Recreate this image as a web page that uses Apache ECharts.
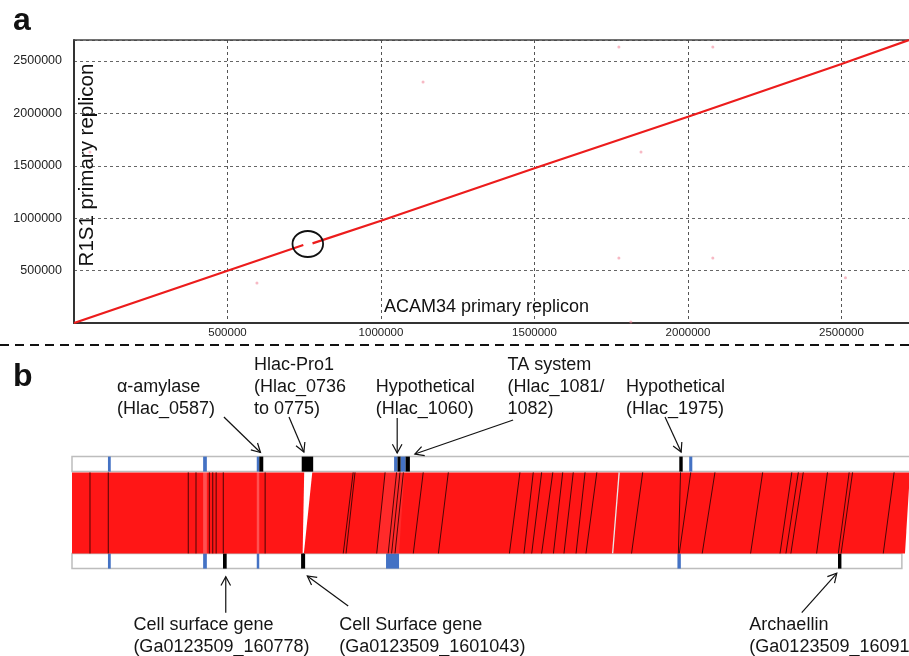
<!DOCTYPE html>
<html><head><meta charset="utf-8">
<script src="https://cdn.jsdelivr.net/npm/echarts@6/dist/echarts.min.js"></script>
<style>html,body{margin:0;padding:0;background:#fff}#c{width:909px;height:656px}</style>
</head><body><div id="c"></div>
<script>
// ================= Panel a : dot plot =================
const xTickStep = 500000;
const yTickStep = 500000;
const xMax = 2720000;
const yMax = 2700000;
const dotPlotSegment1 = [[0, 0], [500000, 499000], [747000, 744000]];
const dotPlotSegment2 = [[777000, 760000], [1000000, 976000], [1500000, 1476000], [2000000, 1968000], [2500000, 2471000], [2720000, 2700000]];
const faintHits = [[1137000, 2300000], [1775000, 2634000], [2081000, 2634000], [1847000, 1632000], [1775000, 620000], [2081000, 620000], [596000, 382000], [2513000, 432000], [1814000, 10000], [52000, 1632000]];
const circledRegion = [[761600, 753700]];

// ================= Panel b : synteny map (Mb) =================
const topGenomeLength = 2.75;      // ACAM34 track runs past the frame
const bottomGenomeLength = 2.677;  // R1S1 track
const topBlue = [[0.116, 0.125], [0.423, 0.435], [0.596, 0.604], [1.039, 1.050], [1.060, 1.076], [1.991, 2.001]];
const topBlack = [[0.604, 0.617], [0.741, 0.778], [1.050, 1.060], [1.076, 1.090], [1.959, 1.970]];
const bottomBlue = [[0.116, 0.125], [0.423, 0.435], [0.596, 0.604], [1.013, 1.055], [1.953, 1.964]];
const bottomBlack = [[0.487, 0.499], [0.739, 0.752], [2.471, 2.482]];
// [topStart, topEnd, bottomStart, bottomEnd]
const syntenyBlocks = [[0, 0.749, 0, 0.744], [0.775, 2.703, 0.748, 2.687]];
const paleBlocks = [[0.423, 0.435, 0.423, 0.435], [0.596, 0.604, 0.596, 0.604]];
const faintBlocks = [[1.010, 1.072, 0.983, 1.055]];
// [topPos, bottomPos]
const darkLinks = [
  [0.058, 0.058], [0.117, 0.117], [0.375, 0.375], [0.400, 0.400], [0.443, 0.443], [0.454, 0.454], [0.465, 0.465], [0.488, 0.488], [0.623, 0.623],
  [0.907, 0.875], [0.913, 0.884], [1.010, 0.983], [1.047, 1.020], [1.058, 1.031], [1.069, 1.042], [1.133, 1.101], [1.214, 1.182],
  [1.445, 1.411], [1.488, 1.458], [1.515, 1.483], [1.551, 1.515], [1.583, 1.553], [1.617, 1.587], [1.655, 1.626], [1.693, 1.658],
  [1.841, 1.805], [1.963, 1.956], [1.996, 1.959], [2.074, 2.033], [2.228, 2.189], [2.322, 2.284], [2.343, 2.303], [2.359, 2.319],
  [2.437, 2.402], [2.507, 2.472], [2.518, 2.481], [2.652, 2.617]
];
const lightLinks = [[1.765, 1.744]];
const annotationText = [
  ['α-amylase', '(Hlac_0587)'],
  ['Hlac-Pro1', '(Hlac_0736', 'to 0775)'],
  ['Hypothetical', '(Hlac_1060)'],
  ['TA system', '(Hlac_1081/', '1082)'],
  ['Hypothetical', '(Hlac_1975)'],
  ['Cell surface gene', '(Ga0123509_160778)'],
  ['Cell Surface gene', '(Ga0123509_1601043)'],
  ['Archaellin', '(Ga0123509_16091']
];
const annotationTip = [[0.608, -3.5], [0.748, -4], [1.049, -3], [1.106, -2], [1.965, -4], [0.496, 120.7], [0.759, 120], [2.467, 117.3]];

// ---- layout (not data) ----
const annotationTail = [[0.490, -39], [0.700, -39], [1.049, -38], [1.423, -36], [1.913, -39], [0.496, 156.7], [0.891, 150], [2.354, 156.7]];
const annotationTextPos = [[0.145, -69], [0.587, -91], [0.980, -69], [1.405, -91], [1.787, -69], [0.198, 169], [0.862, 169], [2.185, 169]];
const ROW = { top: [0.6, 15.6], band: [16.4, 97.4], bottom: [97.4, 112.6] };
const RED = '#ff1616', BLUE = '#4472c4', FONT = '"Liberation Sans", Arial, sans-serif';

const chart = echarts.init(document.getElementById('c'), null, { renderer: 'canvas' });

function boxItem(row) {
  return function (params, api) {
    const a = api.coord([api.value(0), ROW[row][0]]);
    const b = api.coord([api.value(1), ROW[row][1]]);
    return { type: 'rect', shape: { x: a[0], y: a[1], width: b[0] - a[0], height: b[1] - a[1] },
      style: { fill: '#fff', stroke: '#bdbdbd', lineWidth: 1.5 } };
  };
}
function featItem(row, color) {
  return function (params, api) {
    const a = api.coord([api.value(0), ROW[row][0]]);
    const b = api.coord([api.value(1), ROW[row][1]]);
    return { type: 'rect', shape: { x: a[0], y: a[1], width: Math.max(1, b[0] - a[0]), height: b[1] - a[1] },
      style: { fill: color } };
  };
}
function blockItem(color) {
  return function (params, api) {
    const p = [
      api.coord([api.value(0), ROW.band[0]]), api.coord([api.value(1), ROW.band[0]]),
      api.coord([api.value(3), ROW.band[1]]), api.coord([api.value(2), ROW.band[1]])
    ];
    return { type: 'polygon', shape: { points: p }, style: { fill: color } };
  };
}
function linkItem(color, w) {
  return function (params, api) {
    const a = api.coord([api.value(0), ROW.band[0]]);
    const b = api.coord([api.value(1), ROW.band[1]]);
    return { type: 'line', shape: { x1: a[0], y1: a[1], x2: b[0], y2: b[1] }, style: { stroke: color, lineWidth: w } };
  };
}
function annoItem(params, api) {
  const i = params.dataIndex;
  const tip = api.coord([api.value(0), api.value(1)]);
  const tail = api.coord(annotationTail[i]);
  const tp = api.coord(annotationTextPos[i]);
  const ang = Math.atan2(tip[1] - tail[1], tip[0] - tail[0]);
  const hl = 10, ha = 0.5;
  const h1 = [tip[0] - hl * Math.cos(ang - ha), tip[1] - hl * Math.sin(ang - ha)];
  const h2 = [tip[0] - hl * Math.cos(ang + ha), tip[1] - hl * Math.sin(ang + ha)];
  return { type: 'group', children: [
    { type: 'line', shape: { x1: tail[0], y1: tail[1], x2: tip[0], y2: tip[1] }, style: { stroke: '#111', lineWidth: 1.2 } },
    { type: 'polyline', shape: { points: [h1, tip, h2] }, style: { stroke: '#111', lineWidth: 1.2, fill: null } },
    { type: 'text', x: tp[0], y: tp[1] - 11, style: { text: annotationText[i].join('\n'), font: '18px ' + FONT,
      fill: '#151515', lineHeight: 22, align: 'left', verticalAlign: 'top' } }
  ] };
}
const plain = function (v) { return String(v); };

const option = {
  animation: false,
  backgroundColor: '#fff',
  grid: [
    { left: 74, top: 40, width: 835, height: 283, outerBoundsMode: 'none', containLabel: false },
    { left: 72, top: 456, width: 837, height: 113, outerBoundsMode: 'none', containLabel: false }
  ],
  xAxis: [
    { gridIndex: 0, type: 'value', min: 0, max: xMax, interval: xTickStep,
      axisLine: { show: true, onZero: false, lineStyle: { color: '#333', width: 2 } }, axisTick: { show: false },
      axisLabel: { formatter: plain, showMinLabel: false, showMaxLabel: false, color: '#222', fontSize: 11.5, fontFamily: FONT, margin: 4 },
      splitLine: { show: true, lineStyle: { color: '#555', width: 1, type: [3, 3] } } },
    { gridIndex: 0, type: 'value', position: 'top', min: 0, max: xMax,
      axisLine: { show: true, onZero: false, lineStyle: { color: '#444', width: 1.5 } }, axisTick: { show: false },
      axisLabel: { show: false }, splitLine: { show: false } },
    { gridIndex: 1, type: 'value', min: 0, max: 2.7, show: false }
  ],
  yAxis: [
    { gridIndex: 0, type: 'value', min: 0, max: yMax, interval: yTickStep,
      axisLine: { show: true, onZero: false, lineStyle: { color: '#333', width: 2 } }, axisTick: { show: false },
      axisLabel: { formatter: plain, showMinLabel: false, showMaxLabel: false, color: '#222', fontSize: 12.5, fontFamily: FONT, margin: 12 },
      splitLine: { show: true, lineStyle: { color: '#666', width: 1, type: [3, 3] } } },
    { gridIndex: 1, type: 'value', min: 0, max: 113, inverse: true, show: false }
  ],
  graphic: [
    { type: 'text', x: 13, y: 21, style: { text: 'a', font: 'bold 32px ' + FONT, fill: '#111', verticalAlign: 'middle' } },
    { type: 'text', x: 13, y: 377, style: { text: 'b', font: 'bold 32px ' + FONT, fill: '#111', verticalAlign: 'middle' } },
    { type: 'text', x: 87.5, y: 165, rotation: Math.PI / 2, z: 100,
      style: { text: 'R1S1 primary replicon', font: '20.5px ' + FONT, fill: '#111', align: 'center', verticalAlign: 'middle' } },
    { type: 'text', x: 384, y: 307, z: 100,
      style: { text: 'ACAM34 primary replicon', font: '18px ' + FONT, fill: '#111', align: 'left', verticalAlign: 'middle' } },
    { type: 'line', shape: { x1: 0, y1: 345, x2: 909, y2: 345 }, style: { stroke: '#111', lineWidth: 2, lineDash: [9, 6] } }
  ],
  series: [
    { type: 'scatter', xAxisIndex: 0, yAxisIndex: 0, data: faintHits, symbolSize: 3,
      itemStyle: { color: 'rgba(240,130,150,0.7)' }, silent: true },
    { type: 'line', xAxisIndex: 0, yAxisIndex: 0, data: dotPlotSegment1, symbol: 'none',
      lineStyle: { color: '#ec1c1c', width: 2.2 }, z: 5 },
    { type: 'line', xAxisIndex: 0, yAxisIndex: 0, data: dotPlotSegment2, symbol: 'none',
      lineStyle: { color: '#ec1c1c', width: 2.2 }, z: 5 },
    { type: 'custom', xAxisIndex: 0, yAxisIndex: 0, data: circledRegion, clip: false, z: 6,
      renderItem: function (params, api) {
        const c = api.coord([api.value(0), api.value(1)]);
        return { type: 'ellipse', shape: { cx: c[0], cy: c[1], rx: 15.3, ry: 13 }, style: { fill: null, stroke: '#111', lineWidth: 1.8 } };
      } },
    // panel b
    { type: 'custom', xAxisIndex: 2, yAxisIndex: 1, clip: false, data: [[0, topGenomeLength]], renderItem: boxItem('top') },
    { type: 'custom', xAxisIndex: 2, yAxisIndex: 1, clip: false, data: [[0, bottomGenomeLength]], renderItem: boxItem('bottom') },
    { type: 'custom', xAxisIndex: 2, yAxisIndex: 1, clip: false, data: topBlue, renderItem: featItem('top', BLUE) },
    { type: 'custom', xAxisIndex: 2, yAxisIndex: 1, clip: false, data: topBlack, renderItem: featItem('top', '#000') },
    { type: 'custom', xAxisIndex: 2, yAxisIndex: 1, clip: false, data: bottomBlue, renderItem: featItem('bottom', BLUE) },
    { type: 'custom', xAxisIndex: 2, yAxisIndex: 1, clip: false, data: bottomBlack, renderItem: featItem('bottom', '#000') },
    { type: 'custom', xAxisIndex: 2, yAxisIndex: 1, clip: false, data: syntenyBlocks, renderItem: blockItem(RED) },
    { type: 'custom', xAxisIndex: 2, yAxisIndex: 1, clip: false, data: paleBlocks, renderItem: blockItem('rgba(255,220,220,0.3)') },
    { type: 'custom', xAxisIndex: 2, yAxisIndex: 1, clip: false, data: faintBlocks, renderItem: blockItem('rgba(255,230,230,0.1)') },
    { type: 'custom', xAxisIndex: 2, yAxisIndex: 1, clip: false, data: darkLinks, renderItem: linkItem('#4a0606', 1) },
    { type: 'custom', xAxisIndex: 2, yAxisIndex: 1, clip: false, data: lightLinks, renderItem: linkItem('#e8e8e8', 1.3) },
    { type: 'custom', xAxisIndex: 2, yAxisIndex: 1, clip: false, data: annotationTip, renderItem: annoItem }
  ]
};
chart.setOption(option);
</script>
</body></html>
